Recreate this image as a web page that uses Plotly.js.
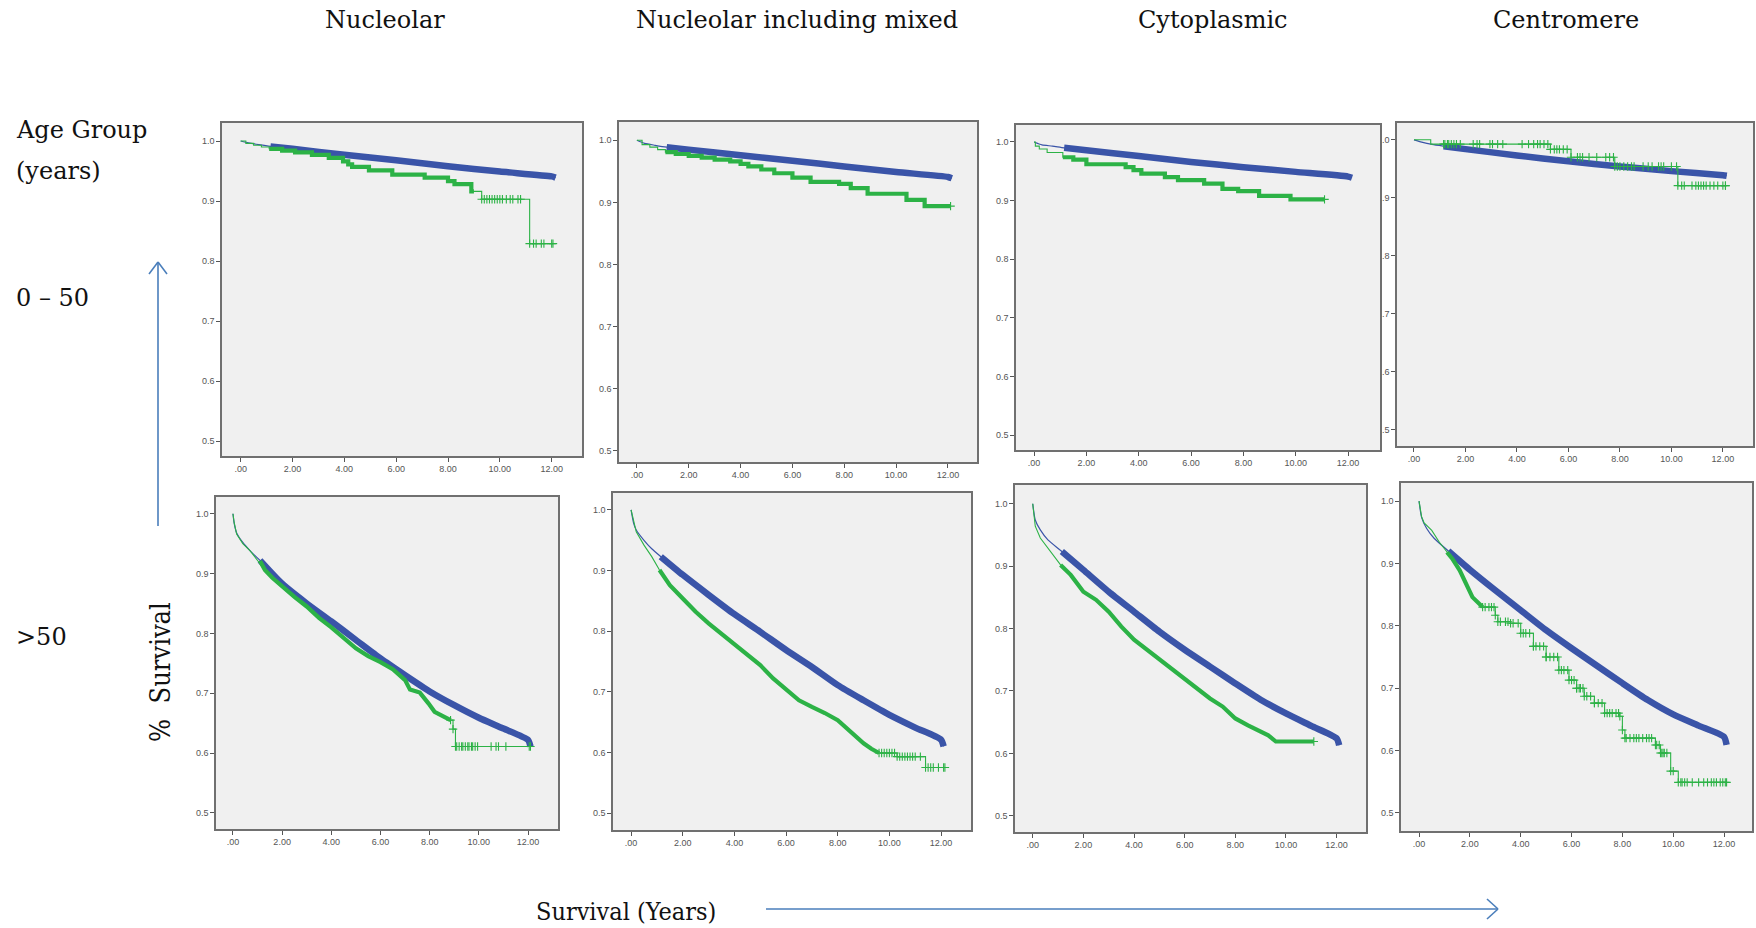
<!DOCTYPE html>
<html>
<head>
<meta charset="utf-8">
<script src="https://cdn.plot.ly/plotly-3.0.1.min.js"></script>
<style>html,body{margin:0;padding:0;background:#fff;}#chart{width:1756px;height:928px;}</style>
</head>
<body>
<div id="chart"></div>
<script>
// ---------------- DATA ----------------
const columnHeaders = ["Nucleolar", "Nucleolar including mixed", "Cytoplasmic", "Centromere"];
const rowLabels = ["0 \u2013 50", ">50"];
const xTickVals = [0, 2, 4, 6, 8, 10, 12];
const xTickText = [".00", "2.00", "4.00", "6.00", "8.00", "10.00", "12.00"];
const yTickVals = [0.5, 0.6, 0.7, 0.8, 0.9, 1.0];
const yTickText = ["0.5", "0.6", "0.7", "0.8", "0.9", "1.0"];
const yTickTextClipped = [".5", ".6", ".7", ".8", ".9", ".0"];

// Panel 1: Nucleolar, age 0-50
const p1BlueT = [0, 0.3, 0.7, 1.15, 2, 4, 6, 8, 10, 12, 12.15];
const p1BlueS = [1.0, 0.997, 0.994, 0.991, 0.987, 0.977, 0.968, 0.958, 0.949, 0.941, 0.939];
const p1GreenT = [0, 0.2, 0.5, 0.8, 1.1, 1.6, 2.1, 2.75, 3.4, 3.95, 4.15, 4.3, 4.95, 5.85, 7.1, 8.0, 8.25, 8.9, 9.3, 11.15, 12.05];
const p1GreenS = [1.0, 0.996, 0.993, 0.990, 0.987, 0.984, 0.981, 0.977, 0.972, 0.966, 0.961, 0.957, 0.951, 0.944, 0.939, 0.933, 0.928, 0.916, 0.903, 0.829, 0.829];
const p1GreenCensor = [9.4, 9.5, 9.6, 9.7, 9.8, 9.9, 10.0, 10.1, 10.25, 10.4, 10.5, 10.7, 10.8, 11.3, 11.4, 11.6, 11.7, 12.0];

// Panel 2: Nucleolar including mixed, age 0-50
const p2BlueT = [0, 0.3, 0.7, 1.15, 2, 4, 6, 8, 10, 12, 12.15];
const p2BlueS = [1.0, 0.995, 0.992, 0.989, 0.985, 0.976, 0.967, 0.958, 0.949, 0.941, 0.939];
const p2GreenT = [0, 0.2, 0.5, 0.8, 1.1, 1.5, 2.0, 2.5, 3.0, 3.6, 4.0, 4.3, 4.8, 5.3, 6.0, 6.7, 7.8, 8.25, 8.9, 10.4, 11.1, 12.1];
const p2GreenS = [1.0, 0.993, 0.989, 0.985, 0.981, 0.978, 0.975, 0.972, 0.969, 0.966, 0.962, 0.958, 0.953, 0.947, 0.940, 0.933, 0.930, 0.923, 0.914, 0.904, 0.894, 0.894];
const p2GreenCensor = [];

// Panel 3: Cytoplasmic, age 0-50
const p3BlueT = [0, 0.3, 0.7, 1.15, 2, 4, 6, 8, 10, 12, 12.15];
const p3BlueS = [1.0, 0.995, 0.993, 0.990, 0.986, 0.976, 0.966, 0.957, 0.949, 0.941, 0.939];
const p3GreenT = [0, 0.05, 0.2, 0.5, 1.1, 1.5, 2.0, 3.5, 3.8, 4.1, 5.0, 5.5, 6.5, 7.2, 7.8, 8.6, 9.8, 11.1];
const p3GreenS = [1.0, 0.993, 0.988, 0.982, 0.974, 0.970, 0.962, 0.957, 0.952, 0.946, 0.940, 0.935, 0.929, 0.920, 0.916, 0.908, 0.902, 0.902];
const p3GreenCensor = [];

// Panel 4: Centromere, age 0-50
const p4BlueT = [0, 0.3, 0.7, 1.15, 2, 4, 6, 8, 10, 12, 12.15];
const p4BlueS = [1.0, 0.996, 0.992, 0.989, 0.984, 0.973, 0.963, 0.954, 0.946, 0.939, 0.938];
const p4GreenT = [0, 0.65, 5.3, 6.1, 7.8, 10.25, 12.1];
const p4GreenS = [1.0, 0.9925, 0.9835, 0.970, 0.954, 0.921, 0.921];
const p4GreenCensor = [1.15, 1.2, 1.3, 1.35, 1.45, 1.55, 1.65, 1.8, 2.3, 2.45, 2.55, 2.95, 3.05, 3.25, 3.45, 4.2, 4.45, 4.65, 4.8, 4.9, 5.05, 5.2,
  5.45, 5.55, 5.65, 5.8, 5.95, 6.35, 6.45, 6.55, 6.8, 7.1, 7.45, 7.6, 7.75, 7.9, 8.0, 8.15, 8.3, 8.45, 8.55, 8.9, 9.1, 9.25, 9.5, 9.6, 9.7, 10.0, 10.2,
  10.4, 10.5, 10.8, 10.95, 11.05, 11.15, 11.25, 11.35, 11.5, 11.65, 11.8, 12.0, 12.1];

// Panel 5: Nucleolar, age >50
const p5BlueT = [0, 0.05, 0.15, 0.4, 0.7, 1.1, 2, 3, 4, 5, 6, 7, 8, 9, 10, 11, 12, 12.1];
const p5BlueS = [1.0, 0.984, 0.968, 0.952, 0.938, 0.922, 0.883, 0.850, 0.820, 0.789, 0.758, 0.730, 0.703, 0.680, 0.659, 0.641, 0.622, 0.611];
const p5GreenT = [0, 0.05, 0.15, 0.4, 0.7, 1.0, 1.3, 1.6, 2.0, 2.5, 3.0, 3.5, 4.0, 4.5, 5.0, 5.5, 6.0, 6.5, 7.0, 7.2, 7.6, 7.95, 8.2, 8.85, 8.95, 9.05, 12.1];
const p5GreenS = [1.0, 0.985, 0.966, 0.950, 0.938, 0.921, 0.906, 0.893, 0.878, 0.861, 0.845, 0.826, 0.810, 0.792, 0.775, 0.762, 0.752, 0.740, 0.722, 0.706, 0.701, 0.683, 0.669, 0.655, 0.640, 0.611, 0.611];
const p5GreenCensor = [9.1, 9.2, 9.3, 9.35, 9.45, 9.55, 9.6, 9.7, 9.75, 9.85, 9.95, 10.5, 10.7, 10.8, 11.1, 12.05];

// Panel 6: Nucleolar including mixed, age >50
const p6BlueT = [0, 0.1, 0.2, 0.5, 0.8, 1.15, 2, 3, 4, 5, 6, 7, 8, 9, 10, 11, 12, 12.1];
const p6BlueS = [1.0, 0.978, 0.967, 0.950, 0.936, 0.923, 0.893, 0.860, 0.828, 0.799, 0.769, 0.741, 0.711, 0.686, 0.662, 0.641, 0.621, 0.610];
const p6GreenT = [0, 0.2, 0.5, 0.8, 1.1, 1.5, 2.0, 2.5, 3.0, 3.5, 4.0, 4.5, 5.0, 5.5, 6.0, 6.5, 7.0, 7.5, 8.0, 8.5, 9.0, 9.3, 9.6, 10.3, 11.4, 12.15];
const p6GreenS = [1.0, 0.964, 0.942, 0.923, 0.901, 0.876, 0.854, 0.832, 0.813, 0.796, 0.780, 0.763, 0.744, 0.722, 0.703, 0.686, 0.675, 0.665, 0.653, 0.634, 0.615, 0.606, 0.599, 0.593, 0.575, 0.575];
const p6GreenCensor = [9.7, 9.8, 9.9, 10.0, 10.1, 10.2, 10.4, 10.5, 10.6, 10.7, 10.8, 10.9, 11.0, 11.2, 11.5, 11.6, 11.7, 11.9, 12.1];

// Panel 7: Cytoplasmic, age >50
const p7BlueT = [0, 0.1, 0.3, 0.6, 1.15, 2, 3, 4, 5, 6, 7, 8, 9, 10, 11, 12, 12.1];
const p7BlueS = [1.0, 0.974, 0.958, 0.942, 0.9235, 0.894, 0.859, 0.827, 0.795, 0.766, 0.739, 0.712, 0.686, 0.664, 0.644, 0.624, 0.613];
const p7GreenT = [0, 0.1, 0.3, 0.6, 1.1, 1.5, 2.0, 2.5, 3.0, 3.5, 4.0, 4.5, 5.0, 5.5, 6.0, 6.5, 7.0, 7.5, 8.0, 8.5, 9.0, 9.3, 9.6, 11.1];
const p7GreenS = [1.0, 0.964, 0.945, 0.929, 0.902, 0.886, 0.859, 0.846, 0.827, 0.803, 0.782, 0.766, 0.752, 0.734, 0.718, 0.704, 0.688, 0.675, 0.656, 0.645, 0.635, 0.629, 0.619, 0.619];
const p7GreenCensor = [];

// Panel 8: Centromere, age >50
const p8BlueT = [0, 0.1, 0.3, 0.6, 1.15, 2, 3, 4, 5, 6, 7, 8, 9, 10, 11, 12, 12.1];
const p8BlueS = [1.0, 0.974, 0.956, 0.940, 0.920, 0.890, 0.857, 0.825, 0.793, 0.764, 0.736, 0.708, 0.681, 0.658, 0.640, 0.622, 0.609];
const p8GreenT = [0, 0.1, 0.2, 0.5, 0.8, 1.1, 1.3, 1.6, 1.9, 2.1, 2.5, 3.0, 3.1, 3.6, 4.0, 4.5, 5.0, 5.5, 5.9, 6.2, 6.5, 6.9, 7.3, 7.9, 8.0, 8.1, 9.3, 9.5, 9.9, 10.2, 12.1];
const p8GreenS = [1.0, 0.975, 0.965, 0.953, 0.934, 0.918, 0.908, 0.889, 0.8625, 0.846, 0.830, 0.817, 0.8065, 0.804, 0.788, 0.767, 0.750, 0.729, 0.713, 0.700, 0.687, 0.676, 0.660, 0.655, 0.633, 0.620, 0.609, 0.596, 0.567, 0.549, 0.549];
const p8GreenCensor = [2.6, 2.75, 2.85, 2.95, 3.2, 3.4, 3.5, 3.7, 3.9, 4.1, 4.2, 4.35, 4.5, 4.6, 4.75, 4.9, 5.0, 5.15, 5.3, 5.45, 5.6, 5.7, 5.85,
  6.0, 6.1, 6.2, 6.3, 6.35, 6.45, 6.6, 6.75, 6.9, 7.05, 7.2, 7.4, 7.5, 7.6, 7.75, 7.85, 8.15, 8.3, 8.45, 8.55, 8.65, 8.8, 8.95, 9.05, 9.15,
  9.35, 9.45, 9.55, 9.6, 9.65, 9.75, 10.0, 10.3, 10.35, 10.45, 10.55, 10.75, 11.0, 11.2, 11.35, 11.5, 11.6, 11.7, 11.85, 11.95, 12.05];

// ---------------- LAYOUT / STYLE ----------------
const W = 1756, H = 928;
const BLUE = "#3a54a8", GREEN = "#2cb246", ARROW = "#4a7ebb";
// smooth: dense part of green drawn as continuous (many tiny steps) rather than coarse steps
const panels = [
  {bt: p1BlueT, bs: p1BlueS, gt: p1GreenT, gs: p1GreenS, gc: p1GreenCensor, box: [222,123,582,456], xr: [-0.72,13.17], yr: [0.475,1.03], denseEnd: 9.0, smooth: false, yt: yTickText},
  {bt: p2BlueT, bs: p2BlueS, gt: p2GreenT, gs: p2GreenS, gc: p2GreenCensor, box: [619,122,977,462], xr: [-0.69,13.12], yr: [0.482,1.0295], denseEnd: 12.1, smooth: false, yt: yTickText},
  {bt: p3BlueT, bs: p3BlueS, gt: p3GreenT, gs: p3GreenS, gc: p3GreenCensor, box: [1016,125,1380,450], xr: [-0.69,13.22], yr: [0.4744,1.029], denseEnd: 11.1, smooth: false, yt: yTickText},
  {bt: p4BlueT, bs: p4BlueS, gt: p4GreenT, gs: p4GreenS, gc: p4GreenCensor, box: [1397,123,1753,446], xr: [-0.66,13.17], yr: [0.472,1.029], denseEnd: 0, smooth: false, yt: yTickTextClipped},
  {bt: p5BlueT, bs: p5BlueS, gt: p5GreenT, gs: p5GreenS, gc: p5GreenCensor, box: [216,497,558,829], xr: [-0.69,13.22], yr: [0.473,1.028], denseEnd: 8.85, smooth: true, yt: yTickText},
  {bt: p6BlueT, bs: p6BlueS, gt: p6GreenT, gs: p6GreenS, gc: p6GreenCensor, box: [613,493,971,830], xr: [-0.70,13.16], yr: [0.472,1.028], denseEnd: 9.6, smooth: true, yt: yTickText},
  {bt: p7BlueT, bs: p7BlueS, gt: p7GreenT, gs: p7GreenS, gc: p7GreenCensor, box: [1015,485,1366,832], xr: [-0.70,13.16], yr: [0.474,1.030], denseEnd: 11.1, smooth: true, yt: yTickText},
  {bt: p8BlueT, bs: p8BlueS, gt: p8GreenT, gs: p8GreenS, gc: p8GreenCensor, box: [1401,483,1752,831], xr: [-0.71,13.10], yr: [0.471,1.029], denseEnd: 2.5, smooth: true, yt: yTickText}
];
const BLUE_THICK_FROM = 1.1, GREEN_THICK_FROM = 1.1;

function stepAt(T, S, t) { let v = S[0]; for (let i = 0; i < T.length; i++) { if (T[i] <= t) v = S[i]; } return v; }
function px(x) { return x / W; }
function py(y) { return 1 - y / H; }

const traces = [];
const layout = {
  width: W, height: H, margin: {l: 0, r: 0, t: 0, b: 0},
  paper_bgcolor: "#ffffff", showlegend: false,
  font: {family: "Liberation Sans Narrow, Liberation Sans, Arial, sans-serif"},
  annotations: [], shapes: []
};

panels.forEach((p, i) => {
  const n = i + 1;
  const xa = "x" + (n === 1 ? "" : n), ya = "y" + (n === 1 ? "" : n);
  const xKey = "xaxis" + (n === 1 ? "" : n), yKey = "yaxis" + (n === 1 ? "" : n);
  const [x0, y0, x1, y1] = p.box;
  const axisCommon = {
    showgrid: false, zeroline: false, showline: true, mirror: true,
    linecolor: "#707070", linewidth: 1.6, ticks: "outside", ticklen: 4, tickwidth: 1, tickcolor: "#555",
    tickfont: {size: 9, color: "#555", family: "Liberation Sans Narrow, Liberation Sans, Arial, sans-serif"},
    fixedrange: true
  };
  layout[xKey] = Object.assign({}, axisCommon, {
    domain: [px(x0), px(x1)], range: p.xr, anchor: ya,
    tickmode: "array", tickvals: xTickVals, ticktext: xTickText
  });
  layout[yKey] = Object.assign({}, axisCommon, {
    domain: [py(y1), py(y0)], range: p.yr, anchor: xa,
    tickmode: "array", tickvals: yTickVals, ticktext: p.yt
  });
  layout.shapes.push({type: "rect", xref: xa + " domain", yref: ya + " domain", x0: 0, x1: 1, y0: 0, y1: 1,
    fillcolor: "#f0f0f0", line: {width: 0}, layer: "below"});

  // Blue: thin line over whole curve, thick band (dense censor marks) from BLUE_THICK_FROM
  traces.push({x: p.bt, y: p.bs, xaxis: xa, yaxis: ya, type: "scatter", mode: "lines",
    line: {color: BLUE, width: 1.2, shape: "spline", smoothing: 0.6}, hoverinfo: "skip"});
  const btT = [], btS = [];
  p.bt.forEach((t, k) => { if (t >= BLUE_THICK_FROM) { btT.push(t); btS.push(p.bs[k]); } });
  traces.push({x: btT, y: btS, xaxis: xa, yaxis: ya, type: "scatter", mode: "lines",
    line: {color: BLUE, width: 6.5, shape: "spline", smoothing: 0.6}, hoverinfo: "skip"});

  // Green: step curve
  if (p.smooth) {
    const ex = [], ey = [];
    p.gt.forEach((t, k) => { if (t <= p.denseEnd) { ex.push(t); ey.push(p.gs[k]); } });
    traces.push({x: ex, y: ey, xaxis: xa, yaxis: ya, type: "scatter", mode: "lines",
      line: {color: GREEN, width: 1.1}, hoverinfo: "skip"});
    const tx = [], ty = [];
    p.gt.forEach((t, k) => { if (t >= p.denseEnd) { tx.push(t); ty.push(p.gs[k]); } });
    if (tx.length > 1) {
      traces.push({x: tx, y: ty, xaxis: xa, yaxis: ya, type: "scatter", mode: "lines",
        line: {color: GREEN, width: 1.1, shape: "hv"}, hoverinfo: "skip"});
    }
  } else {
    traces.push({x: p.gt, y: p.gs, xaxis: xa, yaxis: ya, type: "scatter", mode: "lines",
      line: {color: GREEN, width: 1.1, shape: "hv"}, hoverinfo: "skip"});
  }
  if (p.denseEnd > GREEN_THICK_FROM) {
    const gx = [GREEN_THICK_FROM], gy = [stepAt(p.gt, p.gs, GREEN_THICK_FROM)];
    p.gt.forEach((t, k) => { if (t > GREEN_THICK_FROM && t < p.denseEnd) { gx.push(t); gy.push(p.gs[k]); } });
    gx.push(p.denseEnd); gy.push(stepAt(p.gt, p.gs, p.denseEnd));
    traces.push({x: gx, y: gy, xaxis: xa, yaxis: ya, type: "scatter", mode: "lines",
      line: {color: GREEN, width: 4.2, shape: p.smooth ? "linear" : "hv"}, hoverinfo: "skip"});
  }
  // censor marks
  const cT = p.gc.slice();
  p.gt.forEach((t, k) => { if (t >= GREEN_THICK_FROM && t >= p.denseEnd) cT.push(t); });
  if (cT.length) {
    traces.push({x: cT, y: cT.map(t => stepAt(p.gt, p.gs, t)), xaxis: xa, yaxis: ya, type: "scatter", mode: "markers",
      marker: {symbol: "cross-thin", size: 6, line: {color: GREEN, width: 1.1}, color: GREEN}, hoverinfo: "skip"});
  }
});

// Column headers
const headerX = [385, 797, 1213, 1566];
columnHeaders.forEach((h, i) => {
  layout.annotations.push({text: h, xref: "paper", yref: "paper", x: px(headerX[i]), y: py(20),
    xanchor: "center", yanchor: "middle", showarrow: false,
    font: {family: "DejaVu Serif, serif", size: 24, color: "#111"}});
});
// Left labels
const leftLabels = [["Age Group", 130], ["(years)", 171], [rowLabels[0], 298], [rowLabels[1], 637]];
leftLabels.forEach(([t, y]) => {
  layout.annotations.push({text: t, xref: "paper", yref: "paper", x: px(14), y: py(y),
    xanchor: "left", yanchor: "middle", showarrow: false,
    font: {family: "DejaVu Serif, serif", size: 24, color: "#111"}});
});
layout.annotations.push({text: "%  Survival", xref: "paper", yref: "paper", x: px(160), y: py(672),
  xanchor: "center", yanchor: "middle", showarrow: false, textangle: -90,
  font: {family: "DejaVu Serif Condensed, DejaVu Serif, serif", size: 27, color: "#111"}});
layout.annotations.push({text: "Survival (Years)", xref: "paper", yref: "paper", x: px(626), y: py(911),
  xanchor: "center", yanchor: "middle", showarrow: false,
  font: {family: "DejaVu Serif Condensed, DejaVu Serif, serif", size: 25, color: "#111"}});

// Arrows (decorative shapes)
function seg(xa, ya, xb, yb) {
  layout.shapes.push({type: "line", xref: "paper", yref: "paper", x0: px(xa), y0: py(ya), x1: px(xb), y1: py(yb),
    line: {color: ARROW, width: 1.6}});
}
seg(158, 526, 158, 262); seg(158, 262, 149, 274); seg(158, 262, 167, 274);
seg(766, 909, 1498, 909); seg(1498, 909, 1487, 899); seg(1498, 909, 1487, 919);

Plotly.newPlot("chart", traces, layout, {displayModeBar: false, staticPlot: true});
</script>
</body>
</html>
